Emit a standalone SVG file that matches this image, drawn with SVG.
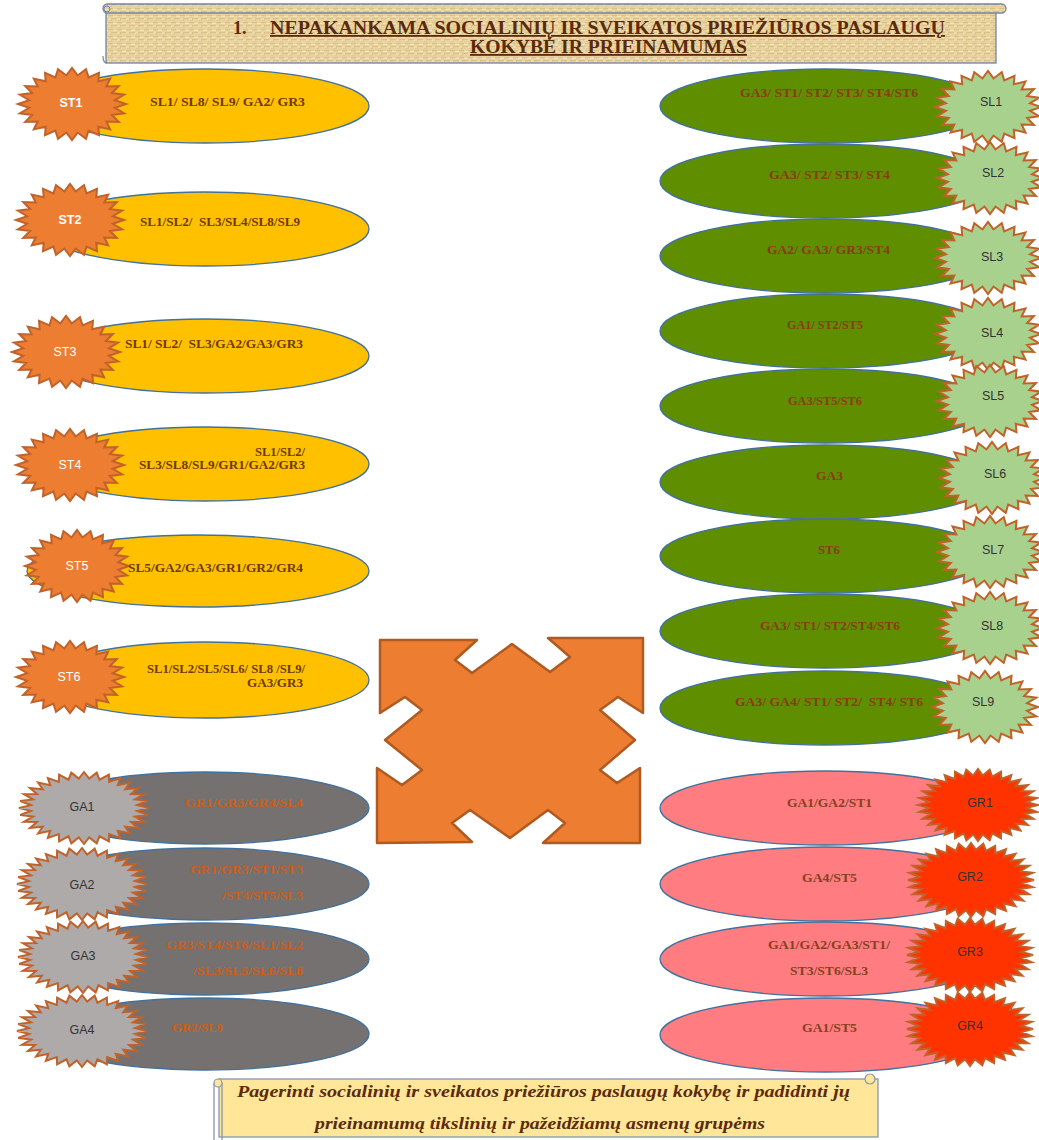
<svg xmlns="http://www.w3.org/2000/svg" xmlns:xlink="http://www.w3.org/1999/xlink" width="1039" height="1140" viewBox="0 0 1039 1140">
<style>
.ely{fill:#ffc000;stroke:#41719c;stroke-width:1.3}
.elg{fill:#5f8f00;stroke:#41719c;stroke-width:1.3}
.elk{fill:#767171;stroke:#41719c;stroke-width:1.3}
.elp{fill:#ff7c80;stroke:#41719c;stroke-width:1.3}
.sto{fill:#ed7d31;stroke:#c0622a;stroke-width:2}
.stg{fill:#a9d18e;stroke:#c0622a;stroke-width:2}
.stk{fill:#aeaaaa;stroke:#c0622a;stroke-width:2}
.str{fill:#ff3300;stroke:#c0622a;stroke-width:2}
.t{font-family:"Liberation Serif",serif;font-weight:bold;font-size:13.5px}
.ty{fill:#6e3a0a}
.tg{fill:#8a3a10}
.tk{fill:#cc5e16}
.tp{fill:#84421e}
.lb{font-family:"Liberation Sans",Arial,sans-serif;font-size:12.5px;text-anchor:middle}
.lw{fill:#ffffff}
.bw{font-weight:bold}
.ld{fill:#333333}
.title{font-family:"Liberation Serif",serif;font-weight:bold;font-size:18px;fill:#5b2a0b}
.sub{font-family:"Liberation Serif",serif;font-weight:bold;font-style:italic;font-size:17px;fill:#5b2a0b}
</style>
<defs>
<pattern id="parch" width="9" height="7" patternUnits="userSpaceOnUse">
<rect width="9" height="7" fill="#e8d29e"/>
<path d="M0 1.5H5M3 4.5H9M1 6H4" stroke="#d6bb82" stroke-width="0.8"/>
<path d="M5 2.5H9M0 5.2H3" stroke="#f6e8c4" stroke-width="0.8"/>
</pattern>
<polygon id="star24" vector-effect="non-scaling-stroke" points="100,0 79.3,10.4 96.6,25.9 73.9,30.6 86.6,50 63.5,48.7 70.7,70.7 48.7,63.5 50,86.6 30.6,73.9 25.9,96.6 10.4,79.3 0,100 -10.4,79.3 -25.9,96.6 -30.6,73.9 -50,86.6 -48.7,63.5 -70.7,70.7 -63.5,48.7 -86.6,50 -73.9,30.6 -96.6,25.9 -79.3,10.4 -100,0 -79.3,-10.4 -96.6,-25.9 -73.9,-30.6 -86.6,-50 -63.5,-48.7 -70.7,-70.7 -48.7,-63.5 -50,-86.6 -30.6,-73.9 -25.9,-96.6 -10.4,-79.3 0,-100 10.4,-79.3 25.9,-96.6 30.6,-73.9 50,-86.6 48.7,-63.5 70.7,-70.7 63.5,-48.7 86.6,-50 73.9,-30.6 96.6,-25.9 79.3,-10.4"/>
<polygon id="star32" vector-effect="non-scaling-stroke" points="100,0 81.6,8 98.1,19.5 78.5,23.8 92.4,38.3 72.3,38.7 83.1,55.6 63.4,52 70.7,70.7 52,63.4 55.6,83.1 38.7,72.3 38.3,92.4 23.8,78.5 19.5,98.1 8,81.6 0,100 -8,81.6 -19.5,98.1 -23.8,78.5 -38.3,92.4 -38.7,72.3 -55.6,83.1 -52,63.4 -70.7,70.7 -63.4,52 -83.1,55.6 -72.3,38.7 -92.4,38.3 -78.5,23.8 -98.1,19.5 -81.6,8 -100,0 -81.6,-8 -98.1,-19.5 -78.5,-23.8 -92.4,-38.3 -72.3,-38.7 -83.1,-55.6 -63.4,-52 -70.7,-70.7 -52,-63.4 -55.6,-83.1 -38.7,-72.3 -38.3,-92.4 -23.8,-78.5 -19.5,-98.1 -8,-81.6 0,-100 8,-81.6 19.5,-98.1 23.8,-78.5 38.3,-92.4 38.7,-72.3 55.6,-83.1 52,-63.4 70.7,-70.7 63.4,-52 83.1,-55.6 72.3,-38.7 92.4,-38.3 78.5,-23.8 98.1,-19.5 81.6,-8"/>
</defs>
<rect width="1039" height="1140" fill="#ffffff"/>

<g id="title-banner">
<rect x="106" y="9" width="890" height="54" fill="url(#parch)" stroke="#6f86a8" stroke-width="1.3"/>
<rect x="103" y="4" width="903" height="9" rx="4.5" fill="url(#parch)" stroke="#6f86a8" stroke-width="1.3"/>
<circle cx="107" cy="9" r="3" fill="none" stroke="#6f86a8" stroke-width="1"/>
<path d="M103 56 q0 7 4 7" fill="none" stroke="#6f86a8" stroke-width="1.2"/>
<text class="title" x="233" y="34">1.</text>
<text class="title" x="270" y="34" textLength="675" lengthAdjust="spacingAndGlyphs" text-decoration="underline">NEPAKANKAMA SOCIALINIŲ IR SVEIKATOS PRIEŽIŪROS PASLAUGŲ</text>
<text class="title" x="470" y="53" textLength="277" lengthAdjust="spacingAndGlyphs" text-decoration="underline">KOKYBĖ IR PRIEINAMUMAS</text>
</g>

<g id="connectors"></g>

<g id="center-arrow">
<polygon points="380,640 477,640 455,660 472,673 512,644 550,672 570,657 548,638 643,638 643,713 618,697 600,710 635,740 600,770 617,783 640,768 640,843 543,843 565,823 548,810 510,838 470,810 452,823 472,842 377,843 377,768 402,785 422,770 385,740 422,710 405,697 380,713" fill="#ed7d31" stroke="#ae5a21" stroke-width="2.5" stroke-linejoin="round"/>
</g>

<g id="node-ST1">
<ellipse class="ely" cx="205" cy="106" rx="164" ry="37"/>
<use href="#star24" class="sto" transform="translate(72,104) scale(0.54,0.36)"/>
<text class="lb lw bw" x="71" y="107">ST1</text>
<text class="t ty" x="150" y="106" textLength="155" lengthAdjust="spacingAndGlyphs" xml:space="preserve">SL1/ SL8/ SL9/ GA2/ GR3</text>
</g>
<g id="node-ST2">
<ellipse class="ely" cx="205" cy="229" rx="164" ry="37"/>
<use href="#star24" class="sto" transform="translate(70,220) scale(0.54,0.36)"/>
<text class="lb lw bw" x="70" y="224">ST2</text>
<text class="t ty" x="140" y="226" textLength="160" lengthAdjust="spacingAndGlyphs" xml:space="preserve">SL1/SL2/  SL3/SL4/SL8/SL9</text>
</g>
<g id="node-ST3">
<ellipse class="ely" cx="205" cy="356" rx="164" ry="37"/>
<use href="#star24" class="sto" transform="translate(66,352) scale(0.54,0.36)"/>
<text class="lb lw" x="65" y="356">ST3</text>
<text class="t ty" x="125" y="348" textLength="178" lengthAdjust="spacingAndGlyphs" xml:space="preserve">SL1/ SL2/  SL3/GA2/GA3/GR3</text>
</g>
<g id="node-ST4">
<ellipse class="ely" cx="205" cy="464" rx="164" ry="37"/>
<use href="#star24" class="sto" transform="translate(70,465) scale(0.54,0.36)"/>
<text class="lb lw" x="70" y="469">ST4</text>
<text class="t ty" x="255" y="456" textLength="50" lengthAdjust="spacingAndGlyphs">SL1/SL2/</text>
<text class="t ty" x="139" y="469" textLength="166" lengthAdjust="spacingAndGlyphs">SL3/SL8/SL9/GR1/GA2/GR3</text>
</g>
<g id="node-ST5">
<ellipse class="ely" cx="198" cy="571" rx="171" ry="36"/>
<use href="#star24" class="sto" transform="translate(77,566) scale(0.52,0.36)"/>
<text class="lb lw" x="77" y="570">ST5</text>
<text class="t ty" x="128" y="572" textLength="175" lengthAdjust="spacingAndGlyphs">SL5/GA2/GA3/GR1/GR2/GR4</text>
</g>
<g id="node-ST6">
<ellipse class="ely" cx="205" cy="680" rx="164" ry="38"/>
<use href="#star24" class="sto" transform="translate(70,677) scale(0.54,0.36)"/>
<text class="lb lw" x="69" y="681">ST6</text>
<text class="t ty" x="147" y="673" textLength="158" lengthAdjust="spacingAndGlyphs" xml:space="preserve">SL1/SL2/SL5/SL6/ SL8 /SL9/</text>
<text class="t ty" x="247" y="687" textLength="56" lengthAdjust="spacingAndGlyphs">GA3/GR3</text>
</g>

<g id="node-GA1">
<ellipse class="elk" cx="205" cy="808" rx="164" ry="36"/>
<use href="#star32" class="stk" transform="translate(84,808) scale(0.65,0.36)"/>
<text class="lb ld" x="82" y="811">GA1</text>
<text class="t tk" x="185" y="807" textLength="118" lengthAdjust="spacingAndGlyphs">GR1/GR3/GR4/SL4</text>
</g>
<g id="node-GA2">
<ellipse class="elk" cx="205" cy="884" rx="164" ry="36"/>
<use href="#star32" class="stk" transform="translate(82,884) scale(0.65,0.36)"/>
<text class="lb ld" x="82" y="889">GA2</text>
<text class="t tk" x="190" y="874" textLength="113" lengthAdjust="spacingAndGlyphs">GR1/GR3/ST1/ST3</text>
<text class="t tk" x="222" y="900" textLength="81" lengthAdjust="spacingAndGlyphs">/ST4/ST5/SL3</text>
</g>
<g id="node-GA3">
<ellipse class="elk" cx="205" cy="959" rx="164" ry="36"/>
<use href="#star32" class="stk" transform="translate(83,957) scale(0.65,0.36)"/>
<text class="lb ld" x="83" y="960">GA3</text>
<text class="t tk" x="166" y="949" textLength="137" lengthAdjust="spacingAndGlyphs">GR3/ST4/ST6/SL1/SL2</text>
<text class="t tk" x="193" y="975" textLength="110" lengthAdjust="spacingAndGlyphs">/SL3/SL5/SL6/SL8</text>
</g>
<g id="node-GA4">
<ellipse class="elk" cx="205" cy="1034" rx="164" ry="36"/>
<use href="#star32" class="stk" transform="translate(82,1031) scale(0.65,0.36)"/>
<text class="lb ld" x="82" y="1034">GA4</text>
<text class="t tk" x="172" y="1032" textLength="51" lengthAdjust="spacingAndGlyphs">GR2/SL9</text>
</g>

<g id="node-SL1">
<ellipse class="elg" cx="825" cy="106" rx="165" ry="37"/>
<use href="#star24" class="stg" transform="translate(988,107) scale(0.53,0.36)"/>
<text class="lb ld" x="991" y="106">SL1</text>
<text class="t tg" x="740" y="97" textLength="178" lengthAdjust="spacingAndGlyphs" xml:space="preserve">GA3/ ST1/ ST2/ ST3/ ST4/ST6</text>
</g>
<g id="node-SL2">
<ellipse class="elg" cx="825" cy="181" rx="165" ry="37"/>
<use href="#star24" class="stg" transform="translate(990,178) scale(0.53,0.36)"/>
<text class="lb ld" x="993" y="177">SL2</text>
<text class="t tg" x="769" y="179" textLength="121" lengthAdjust="spacingAndGlyphs" xml:space="preserve">GA3/ ST2/ ST3/ ST4</text>
</g>
<g id="node-SL3">
<ellipse class="elg" cx="825" cy="256" rx="165" ry="37"/>
<use href="#star24" class="stg" transform="translate(988,258) scale(0.53,0.36)"/>
<text class="lb ld" x="992" y="261">SL3</text>
<text class="t tg" x="767" y="254" textLength="123" lengthAdjust="spacingAndGlyphs" xml:space="preserve">GA2/ GA3/ GR3/ST4</text>
</g>
<g id="node-SL4">
<ellipse class="elg" cx="825" cy="331" rx="165" ry="37"/>
<use href="#star24" class="stg" transform="translate(988,334) scale(0.53,0.36)"/>
<text class="lb ld" x="992" y="337">SL4</text>
<text class="t tg" x="787" y="329" textLength="76" lengthAdjust="spacingAndGlyphs" xml:space="preserve">GA1/ ST2/ST5</text>
</g>
<g id="node-SL5">
<ellipse class="elg" cx="825" cy="406" rx="165" ry="37"/>
<use href="#star24" class="stg" transform="translate(990,401) scale(0.53,0.36)"/>
<text class="lb ld" x="993" y="400">SL5</text>
<text class="t tg" x="788" y="405" textLength="74" lengthAdjust="spacingAndGlyphs">GA3/ST5/ST6</text>
</g>
<g id="node-SL6">
<ellipse class="elg" cx="825" cy="482" rx="165" ry="37"/>
<use href="#star24" class="stg" transform="translate(992,478) scale(0.53,0.36)"/>
<text class="lb ld" x="995" y="478">SL6</text>
<text class="t tg" x="816" y="480" textLength="27" lengthAdjust="spacingAndGlyphs">GA3</text>
</g>
<g id="node-SL7">
<ellipse class="elg" cx="825" cy="556" rx="165" ry="37"/>
<use href="#star24" class="stg" transform="translate(990,552) scale(0.53,0.36)"/>
<text class="lb ld" x="993" y="554">SL7</text>
<text class="t tg" x="818" y="554" textLength="22" lengthAdjust="spacingAndGlyphs">ST6</text>
</g>
<g id="node-SL8">
<ellipse class="elg" cx="825" cy="631" rx="165" ry="37"/>
<use href="#star24" class="stg" transform="translate(990,628) scale(0.53,0.36)"/>
<text class="lb ld" x="992" y="630">SL8</text>
<text class="t tg" x="760" y="630" textLength="140" lengthAdjust="spacingAndGlyphs" xml:space="preserve">GA3/ ST1/ ST2/ST4/ST6</text>
</g>
<g id="node-SL9">
<ellipse class="elg" cx="825" cy="708" rx="165" ry="37"/>
<use href="#star24" class="stg" transform="translate(985,707) scale(0.53,0.36)"/>
<text class="lb ld" x="983" y="706">SL9</text>
<text class="t tg" x="735" y="706" textLength="188" lengthAdjust="spacingAndGlyphs" xml:space="preserve">GA3/ GA4/ ST1/ ST2/  ST4/ ST6</text>
</g>

<g id="node-GR1">
<ellipse class="elp" cx="825" cy="808" rx="165" ry="37"/>
<use href="#star32" class="str" transform="translate(978,805) scale(0.6,0.36)"/>
<text class="lb ld" x="980" y="807">GR1</text>
<text class="t tp" x="787" y="807" textLength="85" lengthAdjust="spacingAndGlyphs">GA1/GA2/ST1</text>
</g>
<g id="node-GR2">
<ellipse class="elp" cx="825" cy="884" rx="165" ry="37"/>
<use href="#star32" class="str" transform="translate(971,880) scale(0.63,0.37)"/>
<text class="lb ld" x="970" y="881">GR2</text>
<text class="t tp" x="802" y="882" textLength="55" lengthAdjust="spacingAndGlyphs">GA4/ST5</text>
</g>
<g id="node-GR3">
<ellipse class="elp" cx="825" cy="959" rx="165" ry="37"/>
<use href="#star32" class="str" transform="translate(970,955) scale(0.63,0.37)"/>
<text class="lb ld" x="970" y="956">GR3</text>
<text class="t tp" x="768" y="949" textLength="122" lengthAdjust="spacingAndGlyphs">GA1/GA2/GA3/ST1/</text>
<text class="t tp" x="790" y="975" textLength="78" lengthAdjust="spacingAndGlyphs">ST3/ST6/SL3</text>
</g>
<g id="node-GR4">
<ellipse class="elp" cx="825" cy="1035" rx="165" ry="37"/>
<use href="#star32" class="str" transform="translate(970,1029) scale(0.63,0.37)"/>
<text class="lb ld" x="970" y="1030">GR4</text>
<text class="t tp" x="802" y="1032" textLength="55" lengthAdjust="spacingAndGlyphs">GA1/ST5</text>
</g>

<g id="goal-banner">
<rect x="219" y="1079" width="659" height="58" fill="#ffe699" stroke="#8497b0" stroke-width="1.3"/>
<path d="M214 1083 V1140 M222 1083 V1140" fill="none" stroke="#8497b0" stroke-width="1.3"/>
<circle cx="218" cy="1083" r="4" fill="#ffe699" stroke="#8497b0" stroke-width="1.2"/>
<circle cx="870" cy="1079" r="5" fill="#ffe699" stroke="#8497b0" stroke-width="1.2"/>
<text class="sub" x="237" y="1097" textLength="613" lengthAdjust="spacingAndGlyphs">Pagerinti socialinių ir sveikatos priežiūros paslaugų kokybę ir padidinti jų</text>
<text class="sub" x="315" y="1129" textLength="450" lengthAdjust="spacingAndGlyphs">prieinamumą tikslinių ir pažeidžiamų asmenų grupėms</text>
</g>
</svg>
